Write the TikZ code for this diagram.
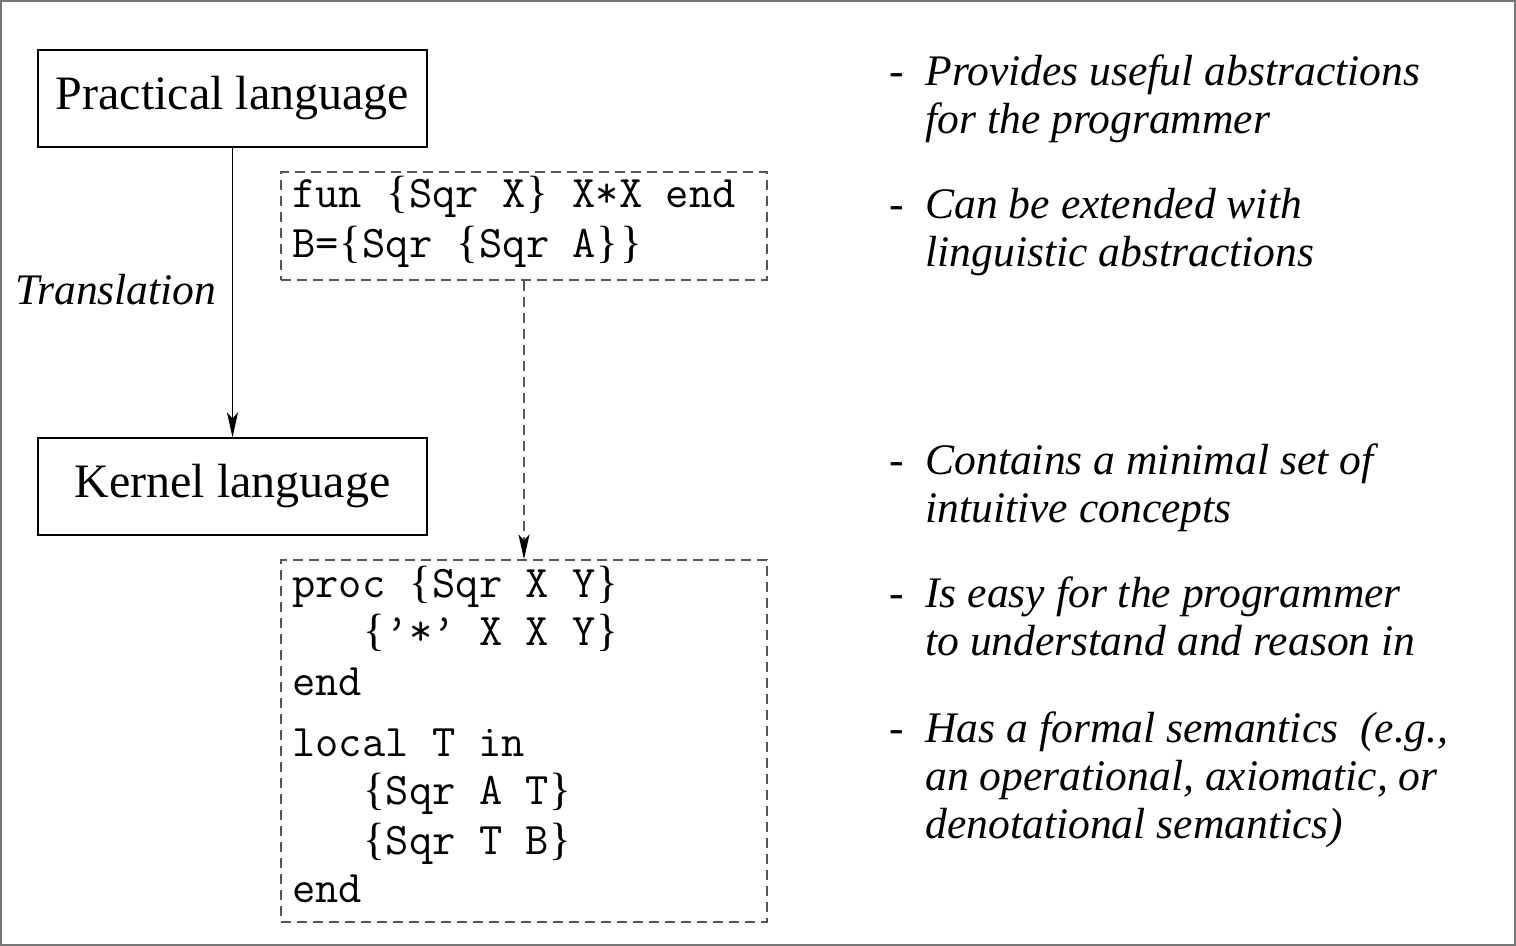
\documentclass[tikz,border=0pt]{standalone}
\usepackage{fontspec}
\setmainfont{Liberation Serif}
\usetikzlibrary{arrows.meta}

\definecolor{framegray}{HTML}{777777}
\definecolor{dashgray}{HTML}{555555}

\newcommand{\codefont}{\ttfamily\fontsize{22.6}{24.5}\selectfont}
\newcommand{\remarkfont}{\itshape\fontsize{21.8}{24}\selectfont}
\newcommand{\obr}{\makebox[0.525em]{\rmfamily\{}}
\newcommand{\cbr}{\makebox[0.525em]{\rmfamily\}}}

\begin{document}
\begin{tikzpicture}[
    x=0.5pt, y=-0.5pt,
    langbox/.style={draw, line width=0.6pt, minimum width=194.5pt, minimum height=48.5pt, inner sep=0pt, font=\fontsize{24}{28}\selectfont},
    codebox/.style={draw=dashgray, dash pattern=on 5pt off 3pt, line width=0.6pt, minimum width=243pt, inner sep=0pt},
    codetext/.style={anchor=base west, inner sep=0pt, font=\codefont},
    remark/.style={anchor=base west, inner sep=0pt, font=\remarkfont},
    flow/.style={-{Stealth[length=12.5pt, width=5.5pt, inset=3pt, color=black]}, line width=0.6pt}
]
    \useasboundingbox (0,0) rectangle (1516,946);
    \draw[framegray, line width=1pt] (1,1) rectangle (1515,945);

    % Language boxes
    \node[langbox] (practical) at (232.5,98.5) {Practical language};
    \node[langbox] (kernel) at (232.5,486.5) {Kernel language};
    \node[remark] (translation) at (15,305) {Translation};

    % Code boxes
    \node[codebox, minimum height=54pt] (sugar) at (524,226) {};
    \node[codebox, minimum height=181pt] (core) at (524,741) {};

    \node[codetext] (sugarcode) at (292,208) {\begin{tabular}[t]{@{}l@{}}
        fun \obr Sqr X\cbr{} X*X end\\[0.5pt]
        B=\obr Sqr \obr Sqr A\cbr\cbr
    \end{tabular}};
    \node[codetext] (corecode) at (292,597) {\begin{tabular}[t]{@{}l@{}}
        proc \obr Sqr X Y\cbr\\
        \ \ \ \obr ’*’ X X Y\cbr\\
        end\\[6pt]
        local T in\\
        \ \ \ \obr Sqr A T\cbr\\
        \ \ \ \obr Sqr T B\cbr\\
        end
    \end{tabular}};

    % Connections
    \draw[flow] (practical) -- (kernel);
    \draw[flow, draw=dashgray, dash pattern=on 5pt off 3pt] (sugar.south) -- (core.north);

    % Remarks
    \node[remark] (prac1) at (889,86) {\begin{tabular}[t]{@{}p{18pt}@{}l@{}}
        - & Provides useful abstractions\\ & for the programmer\end{tabular}};
    \node[remark] (prac2) at (889,219) {\begin{tabular}[t]{@{}p{18pt}@{}l@{}}
        - & Can be extended with\\ & linguistic abstractions\end{tabular}};
    \node[remark] (kern1) at (889,475) {\begin{tabular}[t]{@{}p{18pt}@{}l@{}}
        - & Contains a minimal set of\\ & intuitive concepts\end{tabular}};
    \node[remark] (kern2) at (889,608) {\begin{tabular}[t]{@{}p{18pt}@{}l@{}}
        - & Is easy for the programmer\\ & to understand and reason in\end{tabular}};
    \node[remark] (kern3) at (889,742) {\begin{tabular}[t]{@{}p{18pt}@{}l@{}}
        - & Has a formal semantics\ \ (e.g.,\\ & an operational, axiomatic, or\\ & denotational semantics)\end{tabular}};
\end{tikzpicture}
\end{document}
